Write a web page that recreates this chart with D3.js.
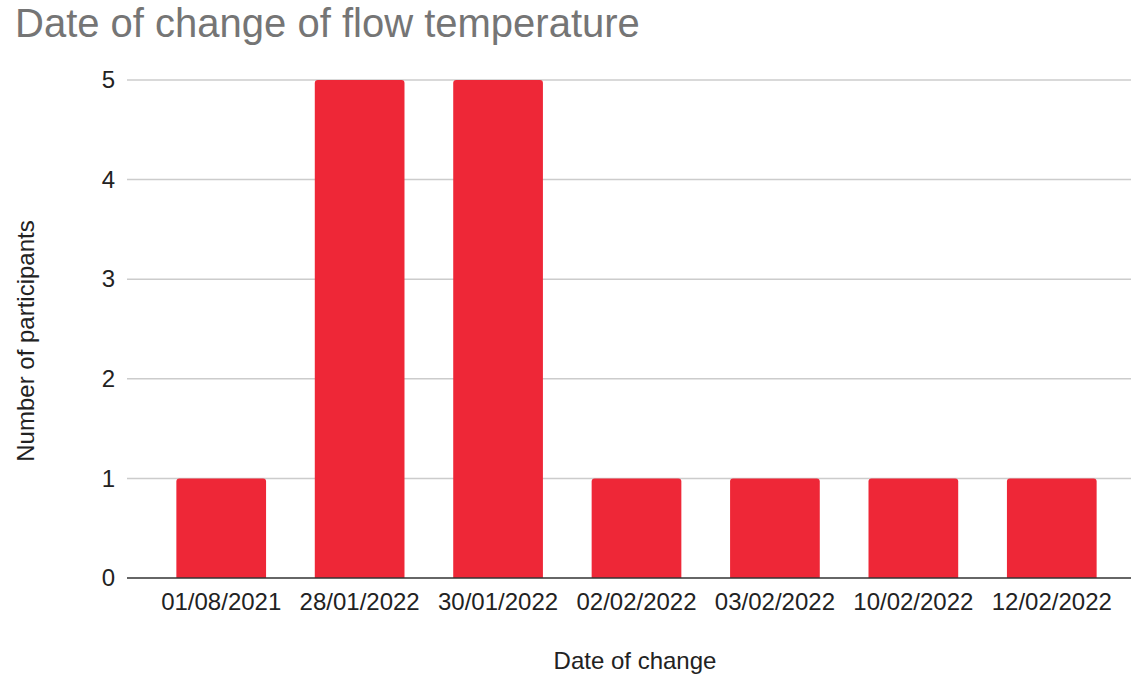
<!DOCTYPE html>
<html>
<head>
<meta charset="utf-8">
<title>Date of change of flow temperature</title>
<script src="https://d3js.org/d3.v7.min.js"></script>
<style>
  body { margin: 0; background: #fff; }
  text { font-family: "Liberation Sans", Arial, sans-serif; }
</style>
</head>
<body>
<svg width="1134" height="675"></svg>
<script>
// data
var dates = ["01/08/2021", "28/01/2022", "30/01/2022", "02/02/2022", "03/02/2022", "10/02/2022", "12/02/2022"];
var participants = [1, 5, 5, 1, 1, 1, 1];
var yTicks = [0, 1, 2, 3, 4, 5];

var svg = d3.select("svg");

var x = d3.scaleBand()
    .domain(dates)
    .range([152, 1121])
    .paddingInner(0.352)
    .paddingOuter(0.176);

var y = d3.scaleLinear()
    .domain([0, 5])
    .range([578, 80]);

// gridlines
svg.append("g")
  .selectAll("line")
  .data(yTicks.filter(function(d) { return d > 0; }))
  .enter().append("line")
    .attr("x1", 127)
    .attr("x2", 1131)
    .attr("y1", function(d) { return y(d); })
    .attr("y2", function(d) { return y(d); })
    .attr("stroke", "#cccccc")
    .attr("stroke-width", 1.5);

// bars, slightly rounded on top
svg.append("g")
  .selectAll("path")
  .data(dates)
  .enter().append("path")
    .attr("fill", "#ee2737")
    .attr("d", function(d, i) {
      var x0 = x(d), w = x.bandwidth(), y0 = y(participants[i]), y1 = y(0), r = 3;
      return "M" + x0 + "," + y1 +
        "V" + (y0 + r) +
        "Q" + x0 + "," + y0 + " " + (x0 + r) + "," + y0 +
        "H" + (x0 + w - r) +
        "Q" + (x0 + w) + "," + y0 + " " + (x0 + w) + "," + (y0 + r) +
        "V" + y1 + "Z";
    });

// baseline
svg.append("line")
    .attr("x1", 127).attr("x2", 1131)
    .attr("y1", y(0)).attr("y2", y(0))
    .attr("stroke", "#333333")
    .attr("stroke-width", 1.5);

// y axis labels
var yAxis = svg.append("g")
    .attr("transform", "translate(115,0)")
    .call(d3.axisLeft(y).tickValues(yTicks).tickSize(0).tickPadding(0).tickFormat(d3.format("d")));
yAxis.select(".domain").remove();
yAxis.selectAll("text")
    .attr("font-size", 24)
    .attr("font-family", "Liberation Sans, Arial, sans-serif")
    .attr("fill", "#222");

// x axis labels
var xAxis = svg.append("g")
    .attr("transform", "translate(0," + y(0) + ")")
    .call(d3.axisBottom(x).tickSize(0).tickPadding(15));
xAxis.select(".domain").remove();
xAxis.selectAll("text")
    .attr("font-size", 24)
    .attr("font-family", "Liberation Sans, Arial, sans-serif")
    .attr("fill", "#222");

// titles
svg.append("text")
    .attr("x", 15)
    .attr("y", 37)
    .attr("font-size", 40)
    .attr("fill", "#757575")
    .text("Date of change of flow temperature");

svg.append("text")
    .attr("x", 635)
    .attr("y", 669)
    .attr("text-anchor", "middle")
    .attr("font-size", 24)
    .attr("fill", "#222")
    .text("Date of change");

svg.append("text")
    .attr("transform", "translate(34,341) rotate(-90)")
    .attr("text-anchor", "middle")
    .attr("font-size", 24)
    .attr("fill", "#222")
    .text("Number of participants");
</script>
</body>
</html>
